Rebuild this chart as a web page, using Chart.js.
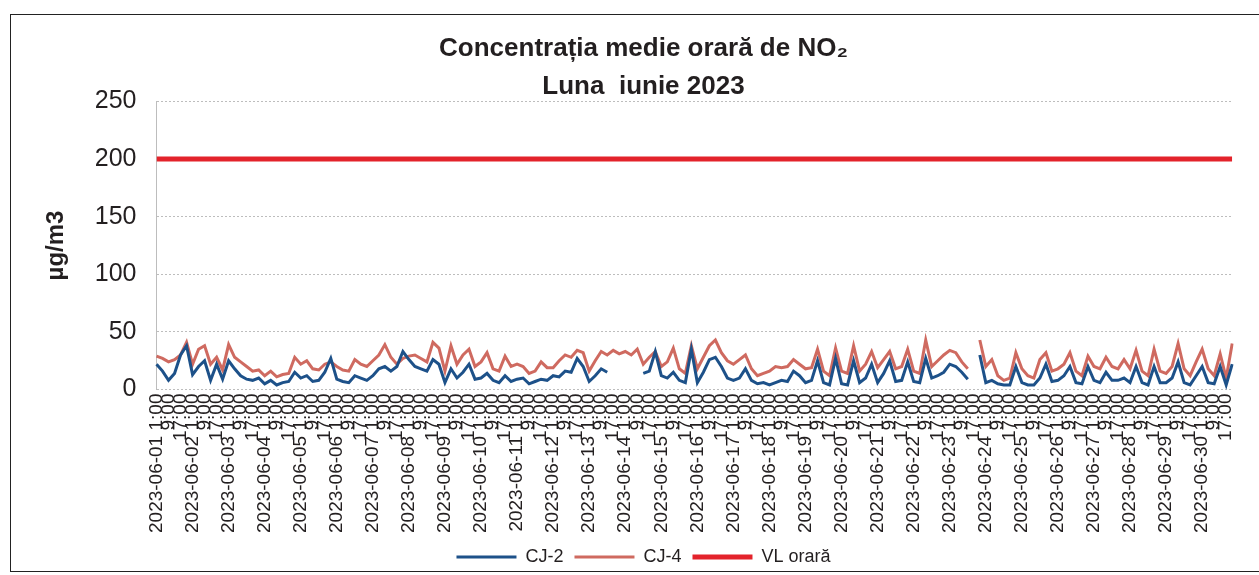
<!DOCTYPE html>
<html>
<head>
<meta charset="utf-8">
<script src="https://cdn.jsdelivr.net/npm/chart.js@4.4.1/dist/chart.umd.min.js"></script>
<style>
  html, body { margin: 0; padding: 0; background: #fff; }
  #wrap { position: relative; width: 1259px; height: 575px; overflow: hidden; }
  #frame { position: absolute; left: 10px; top: 14px; width: 1270px; height: 556px;
           border: 1.5px solid #222; pointer-events: none; }
</style>
</head>
<body>
<div id="wrap">
  <canvas id="no2Chart" width="1259" height="575"></canvas>
  <div id="frame"></div>
</div>
<script>
// Days of June 2023 and the 4-hourly time slots
const days = ['01','02','03','04','05','06','07','08','09','10','11','12','13','14','15',
              '16','17','18','19','20','21','22','23','24','25','26','27','28','29','30'];
const hours = ['1:00', '5:00', '9:00', '13:00', '17:00', '21:00'];

// CJ-2 values (µg/m3), one row per day, null = missing data
const cj2 = [
  22, 16, 8, 14, 30, 38,
  13, 20, 25, 8, 22, 9,
  25, 18, 12, 9, 8, 10,
  5, 8, 4, 6, 7, 15,
  10, 12, 7, 8, 15, 27,
  9, 7, 6, 12, 10, 8,
  12, 18, 20, 16, 20, 33,
  26, 20, 18, 16, 26, 22,
  6, 18, 10, 15, 22, 9,
  10, 14, 8, 6, 12, 7,
  9, 10, 5, 7, 9, 8,
  12, 11, 16, 15, 27, 20,
  7, 12, 18, 15, null, null,
  null, null, null, 14, 16, 33,
  12, 10, 15, 8, 6, 35,
  6, 15, 26, 28, 20, 10,
  8, 10, 18, 8, 5, 6,
  4, 6, 8, 7, 16, 12,
  6, 8, 25, 6, 4, 27,
  5, 4, 25, 6, 10, 22,
  6, 14, 25, 7, 8, 24,
  7, 6, 27, 10, 12, 15,
  22, 20, 15, 9, null, 30,
  6, 8, 5, 4, 4, 20,
  6, 4, 4, 10, 22, 7,
  8, 12, 20, 6, 5, 20,
  8, 6, 15, 8, 8, 10,
  6, 20, 6, 4, 20, 6,
  6, 10, 24, 6, 4, 12,
  20, 6, 5, 20, 4, 22
];

// CJ-4 values (µg/m3)
const cj4 = [
  29, 27, 24, 26, 30, 41,
  22, 35, 38, 22, 28, 17,
  39, 28, 24, 20, 16, 17,
  12, 16, 11, 13, 14, 28,
  22, 25, 18, 17, 22, 24,
  20, 17, 16, 26, 22, 20,
  25, 30, 39, 28, 22, 27,
  29, 30, 27, 24, 41, 36,
  16, 38, 22, 30, 35, 20,
  24, 32, 18, 16, 29, 20,
  22, 20, 14, 16, 24, 19,
  19, 25, 30, 28, 34, 32,
  16, 25, 33, 30, 34, 31,
  33, 30, 35, 22, 28, 33,
  20, 24, 36, 18, 14, 38,
  18, 28, 38, 43, 32, 25,
  22, 26, 30, 18, 12, 14,
  16, 20, 19, 20, 26, 22,
  18, 19, 35, 16, 12, 36,
  16, 14, 38, 16, 22, 33,
  19, 26, 33, 18, 20, 35,
  16, 14, 43, 20, 25, 30,
  34, 32, 24, 18, null, 43,
  20, 26, 12, 8, 10, 32,
  18, 12, 10, 26, 32, 16,
  18, 22, 32, 16, 12, 29,
  20, 18, 28, 20, 18, 26,
  18, 34, 16, 12, 35, 16,
  14, 20, 40, 18, 12, 24,
  35, 18, 12, 31, 10, 40
];

// hourly limit value, start and end of the month
const vlOrara = [200, 200];
const yTicks = [0, 50, 100, 150, 200, 250];

// category labels: full date on the first hour of each day
const labels = [];
days.forEach(d => {
  hours.forEach(h => {
    labels.push(h === '1:00' ? `2023-06-${d} ${h}` : h);
  });
});

const FONT = "'Liberation Sans', Arial, sans-serif";

new Chart(document.getElementById('no2Chart'), {
  type: 'line',
  data: {
    labels: labels,
    datasets: [
      {
        label: 'CJ-2',
        data: cj2,
        borderColor: '#1d5189',
        backgroundColor: '#1d5189',
        borderWidth: 3,
        pointRadius: 0,
        spanGaps: false
      },
      {
        label: 'CJ-4',
        data: cj4,
        borderColor: '#cf6a60',
        backgroundColor: '#cf6a60',
        borderWidth: 3,
        pointRadius: 0,
        spanGaps: false
      },
      {
        label: 'VL orară',
        xAxisID: 'xLimit',
        data: [
          { x: 0, y: vlOrara[0] },
          { x: 1, y: vlOrara[1] }
        ],
        borderColor: '#e3232b',
        backgroundColor: '#e3232b',
        borderWidth: 5,
        pointRadius: 0
      }
    ]
  },
  options: {
    responsive: false,
    animation: false,
    layout: { padding: { left: 38, right: 10, top: 0, bottom: -1 } },
    plugins: {
      title: {
        display: true,
        text: ['Concentrația medie orară de NO₂', 'Luna  iunie 2023'],
        color: '#231f20',
        font: { size: 26, weight: 'bold', family: FONT, lineHeight: 1.45 },
        padding: { top: 30, bottom: -4 }
      },
      legend: {
        position: 'bottom',
        labels: {
          usePointStyle: true,
          pointStyle: 'line',
          pointStyleWidth: 60,
          boxWidth: 60,
          boxHeight: 6,
          padding: 11,
          color: '#231f20',
          font: { size: 18, family: FONT }
        }
      },
      tooltip: { enabled: false }
    },
    scales: {
      x: {
        offset: false,
        grid: { display: false, drawTicks: false },
        border: { display: false },
        ticks: {
          autoSkip: false,
          maxRotation: 90,
          minRotation: 90,
          padding: 4,
          color: '#231f20',
          font: { size: 19, family: FONT },
          callback: function(value, index) {
            return index % 2 === 0 ? labels[index] : '';
          }
        }
      },
      xLimit: {
        type: 'linear',
        display: false,
        min: 0,
        max: 1
      },
      y: {
        min: 0,
        max: 250,
        afterBuildTicks: axis => { axis.ticks = yTicks.map(v => ({ value: v })); },
        title: {
          display: true,
          text: 'µg/m3',
          color: '#231f20',
          font: { size: 24, weight: 'bold', family: FONT },
          padding: { bottom: 4 }
        },
        grid: {
          color: '#bdbdbd',
          lineWidth: 1,
          drawTicks: false
        },
        border: { display: true, color: '#bdbdbd', dash: [2, 2] },
        ticks: {
          padding: 20,
          color: '#231f20',
          font: { size: 25, family: FONT }
        }
      }
    }
  }
});
</script>
</body>
</html>
